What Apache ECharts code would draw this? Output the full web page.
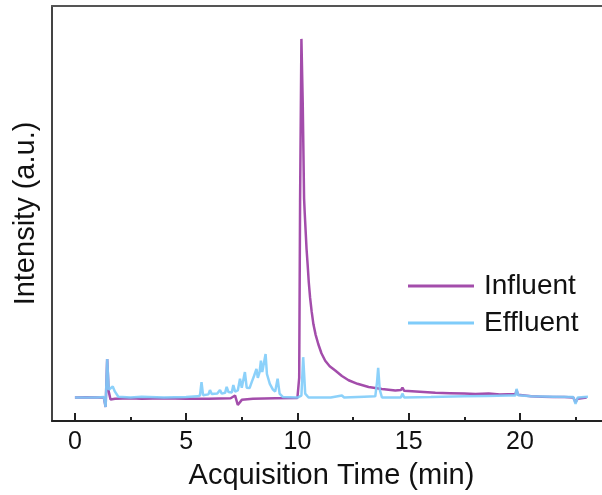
<!DOCTYPE html>
<html><head><meta charset="utf-8">
<script src="https://cdn.jsdelivr.net/npm/echarts@6/dist/echarts.min.js"></script>
<style>html,body{margin:0;padding:0;background:#fff}#c{width:602px;height:495px}</style>
</head><body><div id="c"></div>
<script>
var seriesNames = ["Influent", "Effluent"];
var xTickLabels = [0, 5, 10, 15, 20];
var xMinorTicks = [2.5, 7.5, 12.5, 17.5, 22.5];
// Influent: [time (min), intensity (a.u.)]
var influent = [
 [0,0],[0.5,0.05],[1.0,0],[1.3,0],[1.38,-2.4],[1.45,9.8],[1.52,1.5],[1.6,-0.5],[1.8,-0.3],
 [2.5,-0.2],[3,-0.3],[4,-0.2],[5,-0.3],[6,-0.3],[7.0,-0.2],[7.2,0.5],[7.32,-1.9],[7.5,-0.6],
 [8,-0.3],[9,-0.2],[10.0,-0.1],[10.08,5],[10.12,50],[10.18,91.6],[10.24,75],[10.3,50.8],
 [10.33,47],[10.37,42.5],[10.41,38],[10.46,33.9],[10.51,29.5],[10.57,25.5],[10.64,22],
 [10.72,18.7],[10.82,16],[10.94,13.6],[11.08,11.3],[11.25,9.4],[11.45,8.0],[11.7,6.9],
 [12.0,5.5],[12.3,4.4],[12.7,3.5],[13.2,2.7],[13.8,2.2],[14.4,1.8],[14.65,1.9],[14.72,2.5],
 [14.8,1.7],[15.5,1.5],[16.2,1.2],[16.85,1.1],[17.5,1.0],[18.0,0.9],[18.6,1.0],[19.1,0.8],
 [19.8,0.9],[19.85,1.9],[19.92,0.7],[20.5,0.3],[21.0,0.2],[21.5,0.1],[22.0,0.1],[22.4,0.0],
 [22.5,-1.2],[22.6,-0.3],[23.0,0]
];
// Effluent: [time (min), intensity (a.u.)]
var effluent = [
 [0,0],[1.0,0],[1.3,0.1],[1.38,-2.4],[1.45,9.8],[1.52,2],[1.6,2.3],[1.7,2.8],[1.8,1.5],[1.95,0.2],
 [2.5,0],[3,0.2],[4,0],[5,0.1],[5.5,0.3],[5.62,0.5],[5.69,3.9],[5.76,0.6],[6.0,0.8],[6.07,1.9],
 [6.15,0.9],[6.4,1.0],[6.52,1.9],[6.6,1.0],[6.75,1.2],[6.82,2.7],[6.9,1.4],[7.05,1.3],[7.12,3.2],
 [7.2,1.5],[7.32,1.8],[7.42,4.8],[7.5,2.5],[7.58,2.6],[7.64,6.5],[7.72,2.5],[7.85,2.4],[7.95,4.0],
 [8.05,5.5],[8.16,7.3],[8.22,5.0],[8.3,6.5],[8.36,9.4],[8.42,6.5],[8.5,7],[8.57,11.1],[8.63,6.0],
 [8.76,3.5],[8.9,2.0],[9.0,1.5],[9.11,4.8],[9.2,1.0],[9.35,0.1],[10.0,0],[10.18,0.5],[10.26,10.3],
 [10.35,1],[10.5,0],[11.5,0],[12.0,0.5],[12.1,0],[13.0,0.2],[13.5,0.3],[13.58,4],[13.63,7.6],
 [13.7,2],[13.8,0],[14.65,0],[14.72,1.0],[14.8,0],[16,0.1],[17.5,0.3],[18.5,0.4],[19.5,0.5],
 [19.8,0.5],[19.85,2.2],[19.92,0.6],[20.5,0.3],[21.5,0.2],[22.4,0.1],[22.5,-1.6],[22.6,0],[23.06,0.2]
];

var font = '"Liberation Sans", Arial, sans-serif';
var chart = echarts.init(document.getElementById('c'), null, {renderer: 'canvas'});
var xMin = -1.03, xMax = 23.69;
chart.setOption({
  animation: false,
  grid: {left: 52, top: 6, right: 0, bottom: 71, containLabel: false},
  legend: {
    orient: 'vertical', left: 403, top: 267, itemWidth: 66, itemHeight: 3, itemGap: 9,
    icon: 'rect',
    data: seriesNames,
    textStyle: {fontFamily: font, fontSize: 28, color: '#111', lineHeight: 28, padding: [0,0,0,5]}
  },
  xAxis: [
    {
      type: 'value', min: xMin, max: xMax, position: 'bottom', splitLine: {show: false},
      name: 'Acquisition Time (min)', nameLocation: 'middle', nameGap: 40,
      nameTextStyle: {fontFamily: font, fontSize: 29, color: '#111', padding: [0,0,0,9]},
      axisLine: {show: true, onZero: false, lineStyle: {color: '#222', width: 2}},
      axisTick: {show: true, inside: true, length: 8, lineStyle: {color: '#222', width: 2}, customValues: xTickLabels},
      axisLabel: {show: true, customValues: xTickLabels, margin: 9, fontFamily: font, fontSize: 25, color: '#111'}
    },
    {
      type: 'value', min: xMin, max: xMax, position: 'bottom', splitLine: {show: false},
      axisLine: {show: false, onZero: false},
      axisTick: {show: true, inside: true, length: 4, lineStyle: {color: '#222', width: 2}, customValues: xMinorTicks},
      axisLabel: {show: false}
    },
    {
      type: 'value', min: xMin, max: xMax, position: 'top', splitLine: {show: false},
      axisLine: {show: true, onZero: false, lineStyle: {color: '#555', width: 2}},
      axisTick: {show: false}, axisLabel: {show: false}
    }
  ],
  yAxis: {
    type: 'value', min: -6, max: 100,
    name: 'Intensity (a.u.)', nameLocation: 'middle', nameGap: 12,
    nameTextStyle: {fontFamily: font, fontSize: 29, color: '#111'},
    axisLine: {show: true, onZero: false, lineStyle: {color: '#444', width: 2}},
    axisTick: {show: false}, axisLabel: {show: false}, splitLine: {show: false}
  },
  series: [
    {name: seriesNames[0], type: 'line', data: influent, symbol: 'none', xAxisIndex: 0,
     lineStyle: {color: '#A34DAB', width: 2.5}, itemStyle: {color: '#A34DAB'}},
    {name: seriesNames[1], type: 'line', data: effluent, symbol: 'none', xAxisIndex: 0,
     lineStyle: {color: '#7FCCFA', width: 2.5, opacity: 0.9}, itemStyle: {color: '#7FCCFA'}}
  ]
});
</script></body></html>
